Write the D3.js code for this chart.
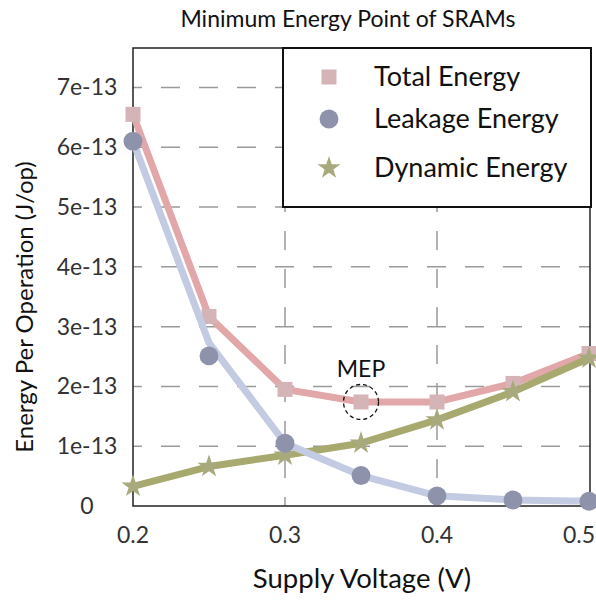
<!DOCTYPE html>
<html>
<head>
<meta charset="utf-8">
<script src="https://cdn.jsdelivr.net/npm/d3@7"></script>
<style>
  html, body { margin: 0; padding: 0; background: #fff; }
  svg { display: block; font-family: Lato, "Open Sans", sans-serif; }
</style>
</head>
<body>
<svg id="chart" width="596" height="600"></svg>
<script>
// Supply voltage sweep (V)
const voltage = [0.2, 0.25, 0.3, 0.35, 0.4, 0.45, 0.5];
// Energy per operation (J/op)
const totalEnergy   = [6.55e-13, 3.17e-13, 1.95e-13, 1.74e-13, 1.74e-13, 2.05e-13, 2.55e-13];
const leakageEnergy = [6.10e-13, 2.51e-13, 1.05e-13, 0.51e-13, 0.17e-13, 0.10e-13, 0.08e-13];
const leakageTrend  = [6.10e-13, 2.73e-13, 1.05e-13, 0.51e-13, 0.17e-13, 0.10e-13, 0.08e-13];
const dynamicEnergy = [0.33e-13, 0.66e-13, 0.85e-13, 1.05e-13, 1.44e-13, 1.91e-13, 2.47e-13];
// Axis ticks
const xTicks = [0.2, 0.3, 0.4, 0.5];
const xTickLabels = ["0.2", "0.3", "0.4", "0.5"];
const yTicks = [0, 1e-13, 2e-13, 3e-13, 4e-13, 5e-13, 6e-13, 7e-13];
const yTickLabels = ["0", "1e-13", "2e-13", "3e-13", "4e-13", "5e-13", "6e-13", "7e-13"];
const xGrid = [0.3, 0.4];
const yGrid = [1e-13, 2e-13, 3e-13, 4e-13, 5e-13, 6e-13, 7e-13];
// Legend entries and minimum-energy point
const seriesNames = ["Total Energy", "Leakage Energy", "Dynamic Energy"];
const mepVoltage = 0.35, mepEnergy = 1.74e-13;

const W = 596, H = 600;
const plot = { left: 133, right: 590, top: 48, bottom: 506 };
const svg = d3.select("#chart");

const x = d3.scaleLinear().domain([0.2, 0.5]).range([plot.left, plot.right - 1]);
const y = d3.scaleLinear().domain([0, 7.66e-13]).range([plot.bottom, plot.top]);

const gridColor = "#9a9a9a";

// Dashed grid
svg.append("g").selectAll("line").data(yGrid).join("line")
  .attr("x1", plot.left).attr("x2", plot.right)
  .attr("y1", d => y(d)).attr("y2", d => y(d))
  .attr("stroke", gridColor).attr("stroke-width", 1.5)
  .attr("stroke-dasharray", "19,19").attr("stroke-dashoffset", 10);
svg.append("g").selectAll("line").data(xGrid).join("line")
  .attr("x1", d => x(d)).attr("x2", d => x(d))
  .attr("y1", plot.bottom).attr("y2", plot.top)
  .attr("stroke", gridColor).attr("stroke-width", 1.5)
  .attr("stroke-dasharray", "19,19").attr("stroke-dashoffset", 10);

// Plot frame
svg.append("rect")
  .attr("x", plot.left).attr("y", plot.top)
  .attr("width", plot.right - plot.left).attr("height", plot.bottom - plot.top)
  .attr("fill", "none").attr("stroke", "#222").attr("stroke-width", 1.5);

const line = d3.line().x((d, i) => x(voltage[i])).y(d => y(d));

const series = [
  { name: seriesNames[0], values: totalEnergy, path: totalEnergy, line: "#e2a8a9", mark: "#d4b4b6", symbol: d3.symbolSquare, size: 225 },
  { name: seriesNames[2], values: dynamicEnergy, path: dynamicEnergy, line: "#a8a96f", mark: "#a8aa7d", symbol: d3.symbolStar, size: 165 },
  { name: seriesNames[1], values: leakageEnergy, path: leakageTrend, line: "#c3cbe2", mark: "#8e93ab", symbol: d3.symbolCircle, size: 280 }
];

series.forEach(s => {
  const g = svg.append("g");
  g.append("path").attr("d", line(s.path))
    .attr("fill", "none").attr("stroke", s.line)
    .attr("stroke-width", 7).attr("stroke-linejoin", "round");
  g.selectAll("path.m").data(s.values).join("path").attr("class", "m")
    .attr("d", d3.symbol().type(s.symbol).size(s.size))
    .attr("transform", (d, i) => `translate(${x(voltage[i])},${y(d)})`)
    .attr("fill", s.mark);
});

// Minimum energy point marker
svg.append("circle")
  .attr("cx", x(mepVoltage)).attr("cy", y(mepEnergy)).attr("r", 17.5)
  .attr("fill", "none").attr("stroke", "#111").attr("stroke-width", 1.3)
  .attr("stroke-dasharray", "4,3");
svg.append("text")
  .attr("x", x(mepVoltage)).attr("y", y(mepEnergy) - 25)
  .attr("text-anchor", "middle").attr("font-size", 23).attr("fill", "#111")
  .text("MEP");

// Tick labels
svg.append("g").selectAll("text").data(yTicks).join("text")
  .attr("x", 87).attr("y", d => y(d) + 8)
  .attr("text-anchor", "middle").attr("font-size", 23).attr("fill", "#333")
  .text((d, i) => yTickLabels[i]);
const xl = svg.append("g").selectAll("text").data(xTicks).join("text")
  .attr("x", d => x(d)).attr("y", 543)
  .attr("text-anchor", "middle").attr("font-size", 23).attr("fill", "#333")
  .text((d, i) => xTickLabels[i]);
// keep tick labels inside the canvas
xl.each(function() {
  const b = this.getBBox();
  if (b.x + b.width > W - 1) d3.select(this).attr("x", +d3.select(this).attr("x") - (b.x + b.width - (W - 1)));
});

// Axis titles
svg.append("text")
  .attr("x", 362).attr("y", 588).attr("text-anchor", "middle")
  .attr("font-size", 27.5).attr("fill", "#111").text("Supply Voltage (V)");
svg.append("text")
  .attr("transform", "translate(33,307) rotate(-90)").attr("text-anchor", "middle")
  .attr("font-size", 24).attr("fill", "#111").text("Energy Per Operation (J/op)");

// Chart title
svg.append("text")
  .attr("x", 348).attr("y", 27).attr("text-anchor", "middle")
  .attr("font-size", 23).attr("fill", "#111").text("Minimum Energy Point of SRAMs");

// Legend
const legend = svg.append("g");
legend.append("rect")
  .attr("x", 283).attr("y", 48).attr("width", 308).attr("height", 159)
  .attr("fill", "#fff").attr("stroke", "#111").attr("stroke-width", 2);
const legendItems = [
  { name: seriesNames[0], mark: "#d4b4b6", symbol: d3.symbolSquare, size: 225 },
  { name: seriesNames[1], mark: "#8e93ab", symbol: d3.symbolCircle, size: 280 },
  { name: seriesNames[2], mark: "#a8aa7d", symbol: d3.symbolStar, size: 165 }
];
const legendY = [77, 119, 168];
legendItems.forEach((it, i) => {
  legend.append("path").attr("d", d3.symbol().type(it.symbol).size(it.size)())
    .attr("transform", `translate(329,${legendY[i]})`).attr("fill", it.mark);
  legend.append("text").attr("x", 374).attr("y", legendY[i] + 8.5)
    .attr("font-size", 27).attr("fill", "#111").text(it.name);
});
</script>
</body>
</html>
